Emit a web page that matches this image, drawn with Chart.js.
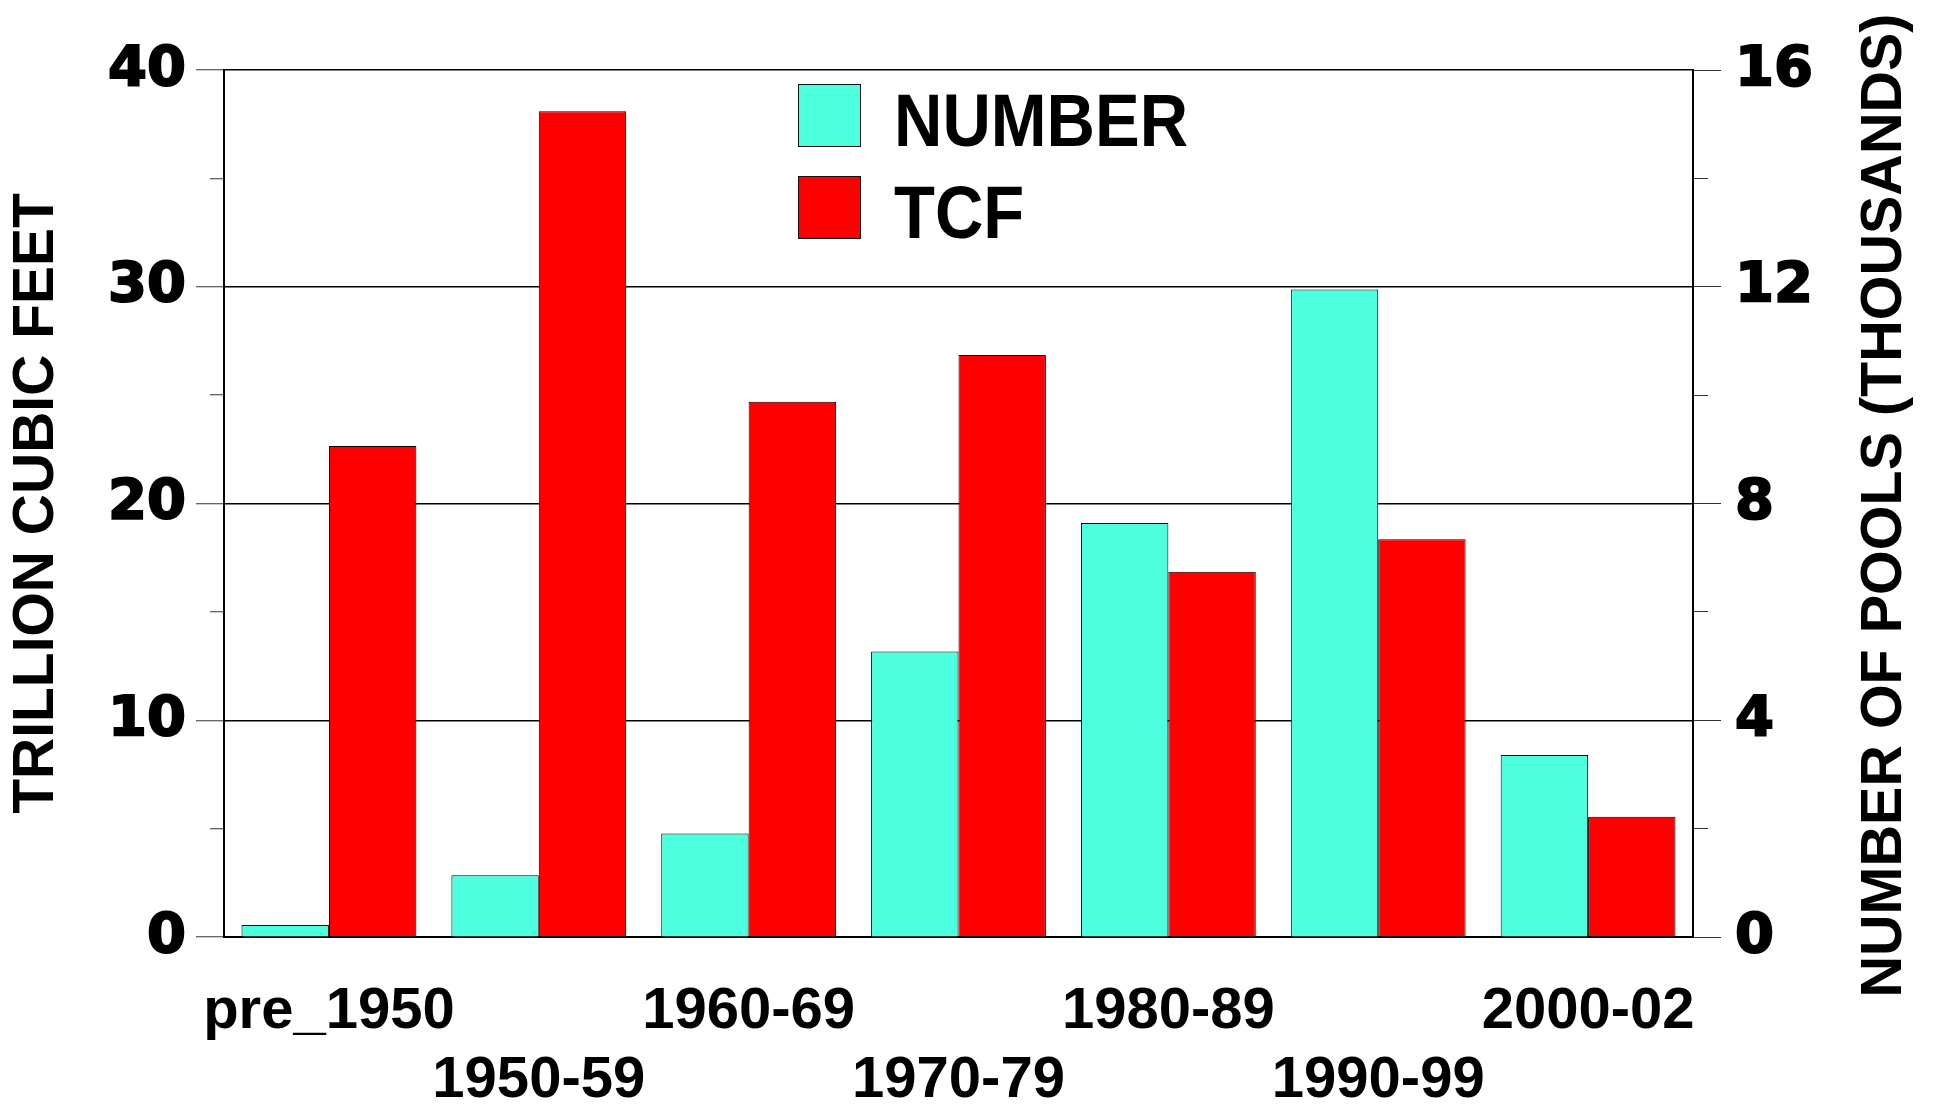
<!DOCTYPE html>
<html>
<head>
<meta charset="utf-8">
<script src="https://cdn.jsdelivr.net/npm/chart.js@4.4.1/dist/chart.umd.min.js"></script>
<style>
  body { margin: 0; background: #fff; }
  #wrap { width: 1934px; height: 1107px; position: relative; }
</style>
</head>
<body>
<div id="wrap"><canvas id="poolsChart"></canvas></div>
<script>
// decades on the x axis
const periods = ["pre_1950", "1950-59", "1960-69", "1970-79", "1980-89", "1990-99", "2000-02"];
// number of pools, thousands (right axis)
const poolCount = [0.22, 1.14, 1.91, 5.27, 7.64, 11.95, 3.36];
// trillion cubic feet (left axis)
const tcf = [22.65, 38.1, 24.7, 26.85, 16.85, 18.35, 5.55];
// labelled ticks
const leftTicks = [0, 10, 20, 30, 40];
const rightTicks = [0, 4, 8, 12, 16];

const tickFont = { family: "DejaVu Sans", weight: "bold", size: 56 };
const labelFont = { family: "Liberation Sans", weight: "bold", size: 58, lineHeight: 1.2 };

// legend inside the plot, stacked, and the right title reading bottom-to-top
const extras = {
  id: "extras",
  afterDraw(chart) {
    const ctx = chart.ctx;
    const area = chart.chartArea;
    ctx.save();
    chart.data.datasets.forEach((ds, i) => {
      const bx = area.left + 574, by = 84 + i * 92;
      ctx.fillStyle = ds.backgroundColor;
      ctx.fillRect(bx, by, 62, 62);
      ctx.strokeStyle = "#111";
      ctx.lineWidth = 1;
      ctx.strokeRect(bx + 0.5, by + 0.5, 62, 62);
      ctx.save();
      ctx.translate(bx + 96, by + 62);
      ctx.scale(1, 1.1);
      ctx.fillStyle = "#000";
      ctx.font = "bold 67px 'Liberation Sans'";
      ctx.textBaseline = "alphabetic";
      ctx.fillText(ds.label, 0, 0);
      ctx.restore();
    });
    ctx.translate(1901, (area.top + area.bottom) / 2 + 2);
    ctx.rotate(-Math.PI / 2);
    ctx.font = "bold 57.5px 'Liberation Sans'";
    ctx.fillStyle = "#000";
    ctx.textAlign = "center";
    ctx.textBaseline = "alphabetic";
    ctx.fillText("NUMBER OF POOLS (THOUSANDS)", 0, 0);
    ctx.restore();
  }
};

const ctx = document.getElementById("poolsChart").getContext("2d");
new Chart(ctx, {
  type: "bar",
  data: {
    labels: periods,
    datasets: [{
      label: "NUMBER",
      data: poolCount,
      yAxisID: "y1",
      backgroundColor: "#4bffdf",
      borderColor: "#000",
      borderWidth: 1,
      categoryPercentage: 0.833,
      barPercentage: 1.0
    }, {
      label: "TCF",
      data: tcf,
      yAxisID: "y",
      backgroundColor: "#ff0000",
      borderColor: "#000",
      borderWidth: 1,
      categoryPercentage: 0.833,
      barPercentage: 1.0
    }]
  },
  options: {
    responsive: true,
    maintainAspectRatio: false,
    animation: false,
    layout: { padding: { top: 70, left: 0, right: 0, bottom: 0 } },
    plugins: {
      legend: { display: false },
      tooltip: { enabled: false }
    },
    scales: {
      x: {
        grid: { display: false, drawTicks: false },
        border: { color: "#000", width: 2 },
        ticks: {
          autoSkip: false,
          maxRotation: 0,
          padding: 40,
          color: "#000",
          font: labelFont,
          callback: (v, i) => (i % 2 ? ["", periods[i]] : periods[i])
        },
        afterFit: s => { s.height = 170; }
      },
      y: {
        position: "left",
        min: 0,
        max: 40,
        ticks: {
          stepSize: 5,
          padding: 10,
          color: "#000",
          textStrokeColor: "#000",
          textStrokeWidth: 2,
          font: tickFont,
          callback: v => (leftTicks.includes(v) ? v : "")
        },
        grid: {
          color: c => (c.tick && c.tick.value % 10 === 0 ? "#000" : "rgba(0,0,0,0)"),
          lineWidth: 1.5,
          tickColor: "#333",
          tickWidth: 1,
          tickLength: 28,
          tickBorderDash: c => (c.tick && c.tick.value % 10 !== 0 ? [0, 14, 14, 0] : [])
        },
        border: { color: "#000", width: 2 },
        title: {
          display: true,
          text: "TRILLION CUBIC FEET",
          color: "#000",
          font: { family: "Liberation Sans", weight: "bold", size: 57 },
          padding: { top: 3, bottom: 0 }
        },
        afterFit: s => { s.width = 224; }
      },
      y1: {
        position: "right",
        min: 0,
        max: 16,
        ticks: {
          stepSize: 2,
          padding: 14,
          color: "#000",
          textStrokeColor: "#000",
          textStrokeWidth: 2,
          font: tickFont,
          callback: v => (rightTicks.includes(v) ? v : "")
        },
        grid: {
          drawOnChartArea: false,
          tickColor: "#333",
          tickWidth: 1,
          tickLength: 28,
          tickBorderDash: c => (c.tick && c.tick.value % 4 !== 0 ? [14, 100] : [])
        },
        border: { color: "#000", width: 2 },
        afterFit: s => { s.width = 241; }
      }
    }
  },
  plugins: [extras]
});
</script>
</body>
</html>
